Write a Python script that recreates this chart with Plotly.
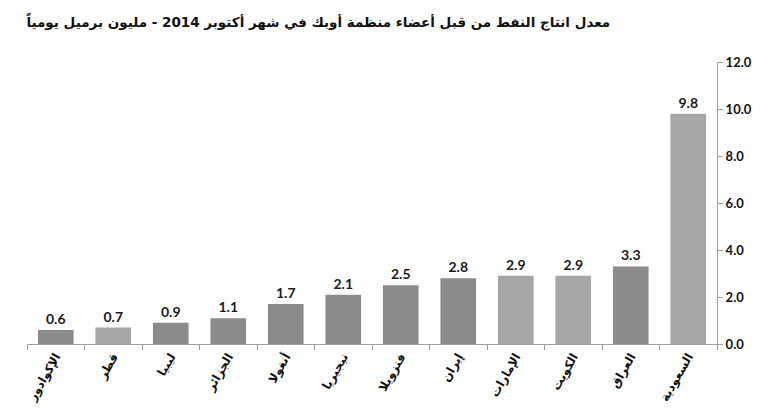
import plotly.graph_objects as go

# OPEC crude production, October 2014 (million barrels/day)
countries = ["الإكوادور", "قطر", "ليبيا", "الجزائر", "أنغولا", "نيجيريا",
             "فنزويلا", "إيران", "الإمارات", "الكويت", "العراق", "السعودية"]
production = [0.6, 0.7, 0.9, 1.1, 1.7, 2.1, 2.5, 2.8, 2.9, 2.9, 3.3, 9.8]
shade = ["dark", "light", "dark", "dark", "dark", "dark",
         "dark", "dark", "light", "light", "dark", "light"]
y_ticks = [0, 2, 4, 6, 8, 10, 12]

title_text = "معدل انتاج النفط من قبل أعضاء منظمة أوبك في شهر أكتوبر 2014 - مليون برميل يومياً"

shade_colors = {"dark": "#8b8b8b", "light": "#a6a6a6"}
font_family = "Lato, DejaVu Sans, sans-serif"

fig = go.Figure()
fig.add_bar(
    x=countries,
    y=production,
    marker=dict(color=[shade_colors[s] for s in shade], line=dict(width=0)),
    text=[f"{v:.1f}" for v in production],
    textposition="outside",
    textfont=dict(size=14, color="#1a1a1a", family=font_family, weight="bold"),
    cliponaxis=False,
    hoverinfo="x+y",
)

fig.update_layout(
    width=770, height=414,
    paper_bgcolor="white", plot_bgcolor="white",
    margin=dict(l=19, r=61, t=54, b=78),
    bargap=0.38,
    showlegend=False,
    title=dict(
        text=title_text,
        x=0.403, xanchor="center", y=0.966, yanchor="middle",
        font=dict(size=13.5, color="#111111", family="DejaVu Sans, sans-serif", weight="bold"),
    ),
    font=dict(family=font_family),
)

fig.update_xaxes(
    type="category",
    showline=True, linecolor="#a0a0a0", linewidth=1,
    ticks="outside", tickson="boundaries", ticklen=5, tickcolor="#a0a0a0",
    tickangle=-60,
    tickfont=dict(size=12, color="#111111", family="DejaVu Sans, sans-serif", weight="bold"),
    showgrid=False,
)

fig.update_yaxes(
    side="right",
    range=[0, 12],
    tickvals=y_ticks,
    tickformat=".1f",
    showline=True, linecolor="#a0a0a0", linewidth=1,
    ticks="outside", ticklen=5, tickcolor="#a0a0a0",
    tickfont=dict(size=13, color="#111111", family=font_family, weight="bold"),
    showgrid=False, zeroline=False,
)

fig.write_html("out.html")
